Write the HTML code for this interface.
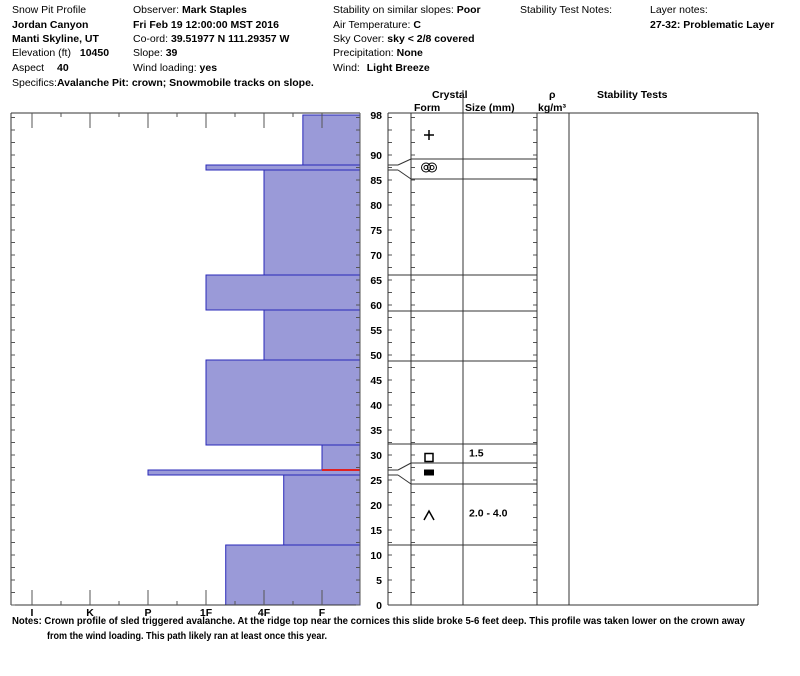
<!DOCTYPE html>
<html><head><meta charset="utf-8"><style>
body{margin:0;background:#fff;width:800px;height:676px;overflow:hidden;font-family:"Liberation Sans",Arial,sans-serif;}
svg{position:absolute;left:0;top:0}
text{font-family:"Liberation Sans",Arial,sans-serif;font-size:10.5px;fill:#000}
.b{font-weight:bold}
</style></head><body>
<svg id="c" width="800" height="676" xmlns="http://www.w3.org/2000/svg">
<g>
<text x="12" y="13">Snow Pit Profile</text>
<text x="12" y="28" class="b">Jordan Canyon</text>
<text x="12" y="42" class="b">Manti Skyline, UT</text>
<text x="12" y="56">Elevation (ft)  <tspan class="b" dx="6">10450</tspan></text>
<text x="12" y="71">Aspect <tspan class="b" dx="10">40</tspan></text>
<text x="12" y="86">Specifics:<tspan class="b">Avalanche Pit: crown; Snowmobile tracks on slope.</tspan></text>
<text x="133" y="13">Observer:  <tspan class="b">Mark Staples</tspan></text>
<text x="133" y="28" class="b">Fri Feb 19 12:00:00 MST 2016</text>
<text x="133" y="42">Co-ord:  <tspan class="b">39.51977 N 111.29357 W</tspan></text>
<text x="133" y="56">Slope:  <tspan class="b">39</tspan></text>
<text x="133" y="71">Wind loading:  <tspan class="b">yes</tspan></text>
<text x="333" y="13">Stability on similar slopes:  <tspan class="b">Poor</tspan></text>
<text x="333" y="28">Air Temperature:   <tspan class="b">C</tspan></text>
<text x="333" y="42">Sky Cover:  <tspan class="b">sky &lt; 2/8 covered</tspan></text>
<text x="333" y="56">Precipitation:  <tspan class="b">None</tspan></text>
<text x="333" y="71">Wind:   <tspan class="b" dx="4">Light Breeze</tspan></text>
<text x="520" y="13">Stability Test Notes:</text>
<text x="650" y="13">Layer notes:</text>
<text x="650" y="28" class="b">27-32: Problematic Layer</text>
</g>
<g>
<text x="432" y="98" class="b">Crystal</text>
<text x="414" y="111" class="b">Form</text>
<text x="465" y="111" class="b">Size (mm)</text>
<text x="549" y="98" class="b">ρ</text>
<text x="538" y="111" class="b">kg/m³</text>
<text x="597" y="98" class="b">Stability Tests</text>
</g>
<g id="g"></g>
<text x="12" y="624" class="b" textLength="733" lengthAdjust="spacingAndGlyphs">Notes:  Crown profile of sled triggered avalanche. At the ridge top near the cornices this slide broke 5-6 feet deep. This profile was taken lower on the crown away</text>
<text x="47" y="639" class="b" textLength="280" lengthAdjust="spacingAndGlyphs">from the wind loading. This path likely ran at least once this year.</text>
</svg>
<script>
const layerTop=[98,88,87,66,59,49,32,27,26,12];
const layerBottom=[88,87,66,59,49,32,27,26,12,0];
const layerHardness=[1.33,3,2,3,2,3,1,4,1.66,2.66];
const hardLabels=["I","K","P","1F","4F","F"];
const hardValues=[6,5,4,3,2,1];
const depthTicks=[98,90,85,80,75,70,65,60,55,50,45,40,35,30,25,20,15,10,5,0];
const rightBoundaries=[[88,159],[87,179],[66,275],[59,311],[49,361],[32,444],[27,463],[26,484],[12,545]];
const crystals=[{sym:"+",d:94},{sym:"oo",d:87.5},{sym:"sq",d:29.5},{sym:"blk",d:26.5},{sym:"^",d:18}];
const sizes=[{t:"1.5",d:30.5},{t:"2.0 - 4.0",d:18.5}];
const y=d=>605-d*5;
const x=h=>380-58*h;
const NS="http://www.w3.org/2000/svg";
const g=document.getElementById('g');
function el(t,a){const e=document.createElementNS(NS,t);for(const k in a)e.setAttribute(k,a[k]);g.appendChild(e);return e;}
function ln(x1,y1,x2,y2,c,w){return el('line',{x1,y1,x2,y2,stroke:c||'#333','stroke-width':w||1});}
layerTop.forEach((t,i)=>{
 const r=el('rect',{x:x(layerHardness[i]),y:y(t),width:360-x(layerHardness[i]),height:y(layerBottom[i])-y(t),fill:'#9a9ad8',stroke:'#2828b8','stroke-width':1});
 
 
});
const red=ln(x(1),y(27),360,y(27),'#e02020',2);


ln(11,113,360,113);ln(11,605,360,605);ln(11,113,11,605);ln(360,113,360,605,'#555');
hardValues.forEach((h,i)=>{
 ln(x(h),113,x(h),128,'#555');ln(x(h),605,x(h),590,'#555');
 if(i<5){const m=(x(h)+x(hardValues[i+1]))/2;ln(m,113,m,117,'#555');ln(m,605,m,601,'#555');}
 const t=el('text',{x:x(h),y:616,'text-anchor':'middle',class:'b'});t.textContent=hardLabels[i];
 
 
});
for(let d=0;d<=98;d+=2.5){ln(11,y(d),15,y(d),'#555');ln(356,y(d),360,y(d),'#555');ln(388,y(d),392,y(d),'#555');ln(411,y(d),415,y(d),'#555');ln(533,y(d),537,y(d),'#555');}
depthTicks.forEach(d=>{const t=el('text',{x:382,y:y(d)+4,'text-anchor':'end',class:'b'});t.textContent=d;
 
 });
ln(388,113,758,113);ln(388,605,758,605);ln(388,113,388,605);ln(758,113,758,605);
[463,537,569].forEach(v=>ln(v,v==463?90:113,v,605));
ln(411,113,411,605);
rightBoundaries.forEach(([d,ry])=>{
 ln(411,ry,537,ry);
 if(Math.abs(y(d)-ry)<1.5)ln(388,ry,411,ry);
 else{ln(388,y(d),398,y(d));ln(398,y(d),411,ry);}
});
crystals.forEach(c=>{
 const cy=y(c.d),cx=429;
 if(c.sym=="+"){ln(cx-5,cy,cx+5,cy,'#000',1.5);ln(cx,cy-5,cx,cy+5,'#000',1.5);}
 else if(c.sym=="oo"){[cx-3,cx+3].forEach(ox=>{el('circle',{cx:ox,cy,r:4.5,fill:'none',stroke:'#000'});el('circle',{cx:ox,cy,r:2,fill:'none',stroke:'#000'});});}
 else if(c.sym=="sq")el('rect',{x:cx-4,y:cy-4,width:8,height:8,fill:'none',stroke:'#000','stroke-width':1.5});
 else if(c.sym=="blk")el('rect',{x:cx-5,y:cy-3,width:10,height:6,fill:'#000'});
 else el('polyline',{points:`${cx-5},${cy+5} ${cx},${cy-4} ${cx+5},${cy+5}`,fill:'none',stroke:'#000','stroke-width':1.5});
});
sizes.forEach(s=>{const t=el('text',{x:469,y:y(s.d)+4,class:'b'});t.textContent=s.t;
 
 });
</script>
</body></html>
